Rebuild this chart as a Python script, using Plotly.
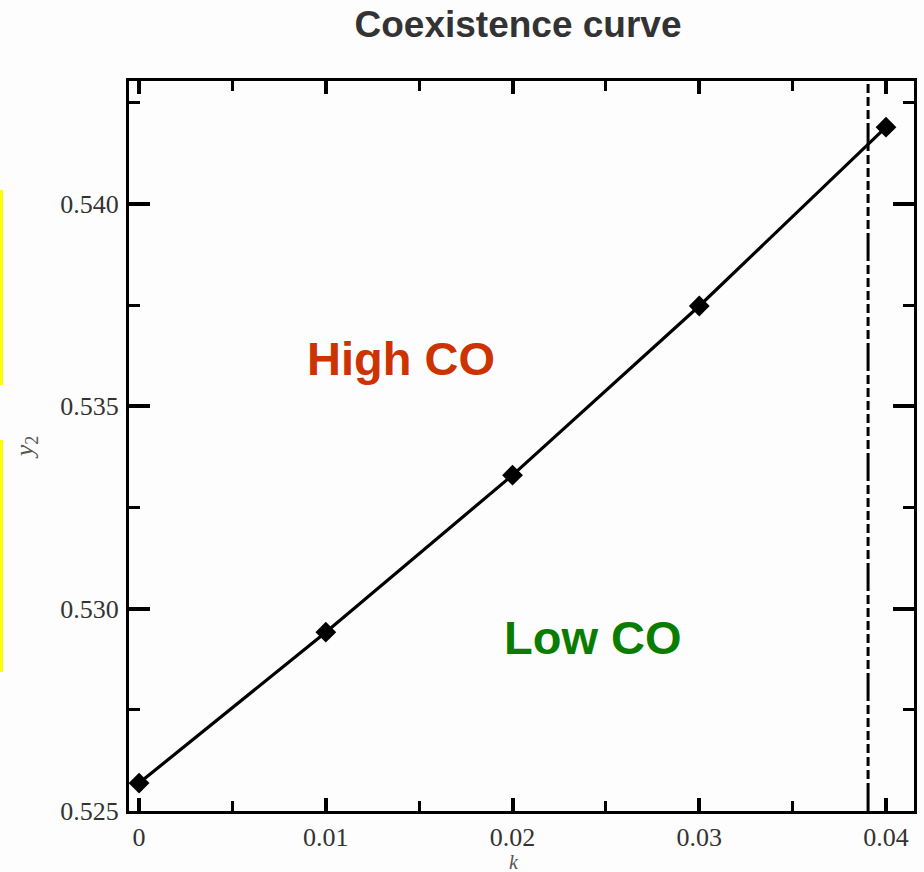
import plotly.graph_objects as go

# Coexistence curve data: coupling k vs. composition y2
k_values = [0.0, 0.01, 0.02, 0.03, 0.04]
y2_values = [0.52569, 0.52942, 0.53330, 0.53748, 0.54190]

# Critical k (dash-dot vertical marker)
k_crit = 0.03904

x_tickvals = [0.0, 0.01, 0.02, 0.03, 0.04]
x_ticktext = ["0", "0.01", "0.02", "0.03", "0.04"]
y_tickvals = [0.525, 0.530, 0.535, 0.540]
y_ticktext = ["0.525", "0.530", "0.535", "0.540"]

# Region labels: (text, k, y2, colour)
region_labels = [
    ("High CO", 0.01404, 0.53619, "#cc3300"),
    ("Low CO", 0.02433, 0.52928, "#0a7d00"),
]

x_range = [-0.00054, 0.0415]
y_range = [0.525, 0.54304]

fig = go.Figure()

fig.add_trace(go.Scatter(
    x=k_values, y=y2_values,
    mode="lines+markers",
    line=dict(color="black", width=3.2),
    marker=dict(symbol="diamond", size=16, color="black"),
    showlegend=False,
    hoverinfo="x+y",
))

fig.add_trace(go.Scatter(
    x=[k_crit, k_crit], y=y_range,
    mode="lines",
    line=dict(color="black", width=3,
              dash="28px,4px,9px,4px,9px,4px,9px,4px,9px,4px,9px,4px,9px,4px"),
    showlegend=False,
    hoverinfo="skip",
))

for text, kx, yy, col in region_labels:
    fig.add_annotation(
        x=kx, y=yy, xref="x", yref="y", text=f"<b>{text}</b>",
        showarrow=False,
        font=dict(family="Liberation Sans, Arial, sans-serif", size=47, color=col),
    )

serif = "Liberation Serif, Times New Roman, serif"
axis_common = dict(
    showline=True, linecolor="black", linewidth=3, mirror="allticks",
    ticks="inside", tickcolor="black", tickwidth=4,
    showgrid=False, zeroline=False, automargin=False,
    tickfont=dict(family=serif, size=26, color="#333333"),
)

fig.update_xaxes(
    range=x_range, tickvals=x_tickvals, ticktext=x_ticktext, ticklen=13,
    ticklabelstandoff=1,
    minor=dict(ticks="inside", dtick=0.005, tick0=0, ticklen=10, tickwidth=3, tickcolor="black"),
    **axis_common,
)
fig.update_yaxes(
    range=y_range, tickvals=y_tickvals, ticktext=y_ticktext, ticklen=21,
    ticklabelstandoff=2,
    minor=dict(ticks="inside", dtick=0.0025, tick0=0.525, ticklen=11, tickwidth=3, tickcolor="black"),
    title=dict(text="<i>y</i><sub>2</sub>", font=dict(family=serif, size=26, color="#555555"), standoff=20),
    **axis_common,
)

# x-axis label placed just under the tick labels
fig.add_annotation(
    x=(514 - 129) / 785, y=-(862 - 811) / 730, xref="paper", yref="paper",
    text="<i>k</i>", showarrow=False, yanchor="middle",
    font=dict(family=serif, size=20, color="#555555"),
)

# Thin yellow marks along the left page edge
for y0, y1 in [(190, 385), (440, 672)]:
    fig.add_shape(
        type="rect", xref="paper", yref="paper",
        x0=-129 / 785, x1=-126 / 785,
        y0=(811 - y1) / 730, y1=(811 - y0) / 730,
        fillcolor="#ffff00", line=dict(width=0), layer="above",
    )

fig.update_layout(
    width=924, height=872,
    margin=dict(l=129, r=10, t=81, b=61, autoexpand=False),
    paper_bgcolor="#fdfdfd", plot_bgcolor="#fdfdfd",
    title=dict(
        text="<b>Coexistence curve</b>",
        x=(518 - 129) / 785, xref="paper", xanchor="center",
        y=1 - 24 / 872, yref="container", yanchor="middle",
        font=dict(family="Liberation Sans, Arial, sans-serif", size=37, color="#333333"),
    ),
)

fig.write_html("out.html")
